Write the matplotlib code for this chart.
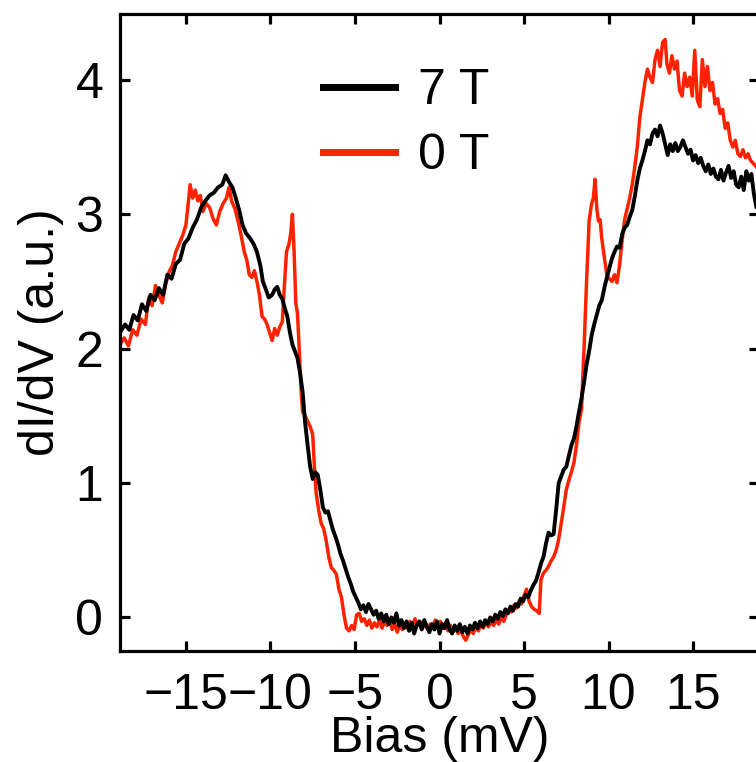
import matplotlib
matplotlib.use("Agg")
import matplotlib.pyplot as plt
from matplotlib.lines import Line2D

plt.rcParams["font.family"] = ["Liberation Sans", "DejaVu Sans"]

# 7 T curve (bias in mV, dI/dV in a.u.)
bias_7t = [
    -18.9, -18.6, -18.35, -18.1, -17.85, -17.6, -17.35, -17.1, -16.85, -16.6,
    -16.35, -16.1, -15.85, -15.6, -15.35, -15.1, -14.85, -14.6, -14.35, -14.1,
    -13.85, -13.6, -13.35, -13.1, -12.85, -12.65, -12.45, -12.25, -12.05, -11.85,
    -11.65, -11.45, -11.2, -11.0, -10.8, -10.6, -10.45, -10.3, -10.1, -9.9,
    -9.75, -9.6, -9.45, -9.3, -9.15, -9.0, -8.85, -8.7, -8.55, -8.4,
    -8.25, -8.1, -7.95, -7.8, -7.65, -7.5, -7.35, -7.2, -7.05, -6.9,
    -6.75, -6.6, -6.45, -6.3, -6.15, -6.0, -5.85, -5.7, -5.55, -5.4,
    -5.25, -5.1, -4.95, -4.8, -4.65, -4.5, -4.35, -4.2, -4.05, -3.9,
    -3.75, -3.6, -3.45, -3.3, -3.15, -3.0, -2.85, -2.7, -2.55, -2.4,
    -2.25, -2.1, -1.95, -1.8, -1.65, -1.5, -1.35, -1.2, -1.05, -0.9,
    -0.75, -0.6, -0.45, -0.3, -0.15, 0.0, 0.15, 0.3, 0.45, 0.6,
    0.75, 0.9, 1.05, 1.2, 1.35, 1.5, 1.65, 1.8, 1.95, 2.1,
    2.25, 2.4, 2.55, 2.7, 2.85, 3.0, 3.15, 3.3, 3.45, 3.6,
    3.75, 3.9, 4.05, 4.2, 4.35, 4.5, 4.65, 4.8, 4.95, 5.1,
    5.25, 5.4, 5.55, 5.7, 5.85, 6.0, 6.15, 6.3, 6.45, 6.6,
    6.75, 6.9, 7.05, 7.2, 7.35, 7.5, 7.65, 7.8, 7.95, 8.1,
    8.25, 8.4, 8.55, 8.7, 8.85, 9.0, 9.15, 9.3, 9.45, 9.6,
    9.75, 9.9, 10.05, 10.2, 10.35, 10.5, 10.65, 10.8, 10.95, 11.1,
    11.25, 11.4, 11.55, 11.7, 11.85, 12.0, 12.15, 12.3, 12.45, 12.6,
    12.75, 12.9, 13.05, 13.2, 13.35, 13.5, 13.65, 13.8, 13.95, 14.1,
    14.25, 14.4, 14.55, 14.7, 14.85, 15.0, 15.15, 15.3, 15.45, 15.6,
    15.75, 15.9, 16.05, 16.2, 16.35, 16.5, 16.65, 16.8, 16.95, 17.1,
    17.25, 17.4, 17.55, 17.7, 17.85, 18.0, 18.15, 18.3, 18.45, 18.6,
    18.75, 18.9,
]
didv_7t = [
    2.12, 2.18, 2.14, 2.25, 2.21, 2.33, 2.28, 2.40, 2.36, 2.45,
    2.40, 2.55, 2.52, 2.63, 2.66, 2.78, 2.82, 2.90, 2.96, 3.05,
    3.10, 3.14, 3.16, 3.20, 3.22, 3.29, 3.24, 3.20, 3.12, 3.03,
    2.92, 2.86, 2.82, 2.78, 2.72, 2.62, 2.50, 2.45, 2.38, 2.40,
    2.44, 2.46, 2.40, 2.37, 2.30, 2.24, 2.12, 2.03, 1.98, 1.93,
    1.82, 1.68, 1.45, 1.28, 1.12, 1.03, 1.08, 1.06, 0.95, 0.82,
    0.78, 0.79, 0.72, 0.65, 0.60, 0.54, 0.47, 0.42, 0.36, 0.30,
    0.25, 0.19, 0.15, 0.11, 0.06, 0.09, 0.04, 0.10, 0.06, 0.02,
    0.05, -0.01, 0.03, -0.03, 0.02, -0.05, 0.00, -0.04, 0.03, -0.06,
    -0.02, -0.08, -0.03, -0.10, -0.04, -0.12, -0.06, -0.03, -0.09, -0.02,
    -0.07, -0.11, -0.05, -0.09, -0.03, -0.12, -0.05, -0.08, -0.02, -0.09,
    -0.12, -0.06, -0.10, -0.05, -0.11, -0.07, -0.12, -0.06, -0.09, -0.04,
    -0.08, -0.03, -0.07, -0.02, -0.05, 0.00, -0.03, 0.02, -0.01, 0.04,
    0.01, 0.06, 0.03, 0.08, 0.05, 0.10, 0.08, 0.14, 0.12, 0.17,
    0.15, 0.20, 0.24, 0.27, 0.33, 0.40, 0.45, 0.55, 0.63, 0.61,
    0.62, 0.80, 1.00, 1.05, 1.10, 1.12, 1.20, 1.28, 1.33, 1.42,
    1.53, 1.63, 1.75, 1.88, 1.98, 2.10, 2.18, 2.25, 2.32, 2.36,
    2.45, 2.53, 2.60, 2.67, 2.72, 2.76, 2.75, 2.85, 2.90, 2.92,
    2.98, 3.03, 3.13, 3.25, 3.34, 3.40, 3.47, 3.55, 3.52, 3.60,
    3.63, 3.58, 3.66, 3.60, 3.52, 3.44, 3.52, 3.47, 3.53, 3.47,
    3.50, 3.55, 3.50, 3.45, 3.48, 3.40, 3.44, 3.38, 3.42, 3.36,
    3.32, 3.37, 3.30, 3.34, 3.28, 3.26, 3.33, 3.25, 3.31, 3.36,
    3.27, 3.32, 3.22, 3.20, 3.28, 3.18, 3.32, 3.25, 3.30, 3.15,
    3.05, 3.08,
]

# 0 T curve
bias_0t = [
    -18.9, -18.65, -18.4, -18.15, -17.9, -17.65, -17.4, -17.2, -17.0, -16.8,
    -16.6, -16.4, -16.2, -16.0, -15.8, -15.6, -15.4, -15.2, -15.0, -14.85,
    -14.75, -14.6, -14.45, -14.3, -14.15, -14.0, -13.8, -13.6, -13.4, -13.2,
    -13.0, -12.8, -12.6, -12.45, -12.3, -12.1, -11.9, -11.7, -11.55, -11.4,
    -11.25, -11.1, -10.95, -10.8, -10.65, -10.5, -10.35, -10.2, -10.05, -9.9,
    -9.75, -9.6, -9.45, -9.3, -9.2, -9.05, -8.9, -8.8, -8.7, -8.6,
    -8.5, -8.4, -8.3, -8.2, -8.1, -7.95, -7.8, -7.65, -7.5, -7.4,
    -7.3, -7.15, -7.0, -6.85, -6.7, -6.55, -6.4, -6.25, -6.1, -5.95,
    -5.8, -5.65, -5.5, -5.35, -5.2, -5.05, -4.9, -4.75, -4.6, -4.45,
    -4.3, -4.15, -4.0, -3.85, -3.7, -3.55, -3.4, -3.25, -3.1, -2.95,
    -2.8, -2.65, -2.5, -2.35, -2.2, -2.05, -1.9, -1.75, -1.6, -1.45,
    -1.3, -1.15, -1.0, -0.85, -0.7, -0.55, -0.4, -0.25, -0.1, 0.05,
    0.2, 0.35, 0.5, 0.65, 0.8, 0.95, 1.1, 1.25, 1.4, 1.55,
    1.7, 1.85, 2.0, 2.15, 2.3, 2.45, 2.6, 2.75, 2.9, 3.05,
    3.2, 3.35, 3.5, 3.65, 3.8, 3.95, 4.1, 4.25, 4.4, 4.55,
    4.7, 4.85, 5.0, 5.15, 5.3, 5.45, 5.6, 5.75, 5.9, 6.0,
    6.15, 6.3, 6.45, 6.6, 6.75, 6.9, 7.05, 7.2, 7.35, 7.5,
    7.65, 7.8, 7.95, 8.1, 8.25, 8.4, 8.55, 8.7, 8.85, 9.0,
    9.1, 9.2, 9.3, 9.4, 9.5, 9.6, 9.75, 9.9, 10.05, 10.2,
    10.35, 10.5, 10.65, 10.8, 10.95, 11.1, 11.25, 11.4, 11.55, 11.7,
    11.85, 12.0, 12.15, 12.3, 12.45, 12.6, 12.75, 12.9, 13.05, 13.2,
    13.35, 13.45, 13.6, 13.75, 13.9, 14.05, 14.2, 14.35, 14.5, 14.65,
    14.8, 14.95, 15.1, 15.25, 15.4, 15.55, 15.7, 15.85, 16.0, 16.15,
    16.3, 16.45, 16.6, 16.75, 16.9, 17.05, 17.2, 17.35, 17.5, 17.65,
    17.8, 17.95, 18.1, 18.25, 18.4, 18.55, 18.7, 18.9,
]
didv_0t = [
    2.03, 2.08, 2.02, 2.14, 2.10, 2.22, 2.18, 2.38, 2.32, 2.47,
    2.40, 2.34, 2.48, 2.57, 2.62, 2.72, 2.78, 2.84, 2.92, 3.10,
    3.22, 3.12, 3.18, 3.10, 3.14, 3.02, 3.08, 3.05, 2.97, 2.92,
    3.02, 3.08, 3.12, 3.20, 3.10, 3.04, 2.94, 2.82, 2.72, 2.66,
    2.55, 2.53, 2.58, 2.50, 2.40, 2.24, 2.22, 2.18, 2.12, 2.06,
    2.15, 2.10, 2.16, 2.20, 2.42, 2.72, 2.78, 2.86, 3.00, 2.72,
    2.34, 2.26, 2.00, 1.72, 1.53, 1.50, 1.46, 1.42, 1.36, 1.12,
    0.93, 0.80, 0.70, 0.66, 0.57, 0.45, 0.37, 0.35, 0.32, 0.21,
    0.15, 0.02, -0.08, -0.10, -0.06, -0.09, 0.02, 0.03, -0.03, -0.01,
    -0.06, -0.02, -0.08, -0.04, -0.07, -0.02, -0.08, -0.03, -0.06, -0.02,
    -0.09, -0.05, -0.11, -0.06, -0.09, -0.04, -0.08, -0.03, -0.07, -0.01,
    -0.06, -0.03, -0.08, -0.04, -0.09, -0.05, -0.07, -0.02, -0.06, -0.03,
    -0.08, -0.04, -0.10, -0.06, -0.11, -0.07, -0.12, -0.09, -0.14, -0.17,
    -0.13, -0.09, -0.12, -0.07, -0.10, -0.05, -0.08, -0.04, -0.07, -0.03,
    -0.06, -0.02, -0.05, 0.00, -0.03, 0.02, 0.06, 0.04, 0.09, 0.07,
    0.12, 0.10, 0.16, 0.21, 0.12, 0.08, 0.06, 0.05, 0.03, 0.28,
    0.33, 0.35, 0.38, 0.42, 0.45, 0.50, 0.58, 0.70, 0.82, 0.95,
    1.02, 1.08, 1.15, 1.28, 1.45, 1.55, 2.00, 2.50, 2.95, 3.08,
    3.12, 3.26, 3.05, 2.95, 2.96, 2.82, 2.68, 2.55, 2.52, 2.50,
    2.55, 2.49, 2.62, 2.80, 2.96, 3.04, 3.12, 3.22, 3.35, 3.50,
    3.72, 3.85, 3.98, 4.08, 4.02, 3.98, 4.15, 4.22, 4.10, 4.28,
    4.30, 4.12, 4.05, 4.18, 4.08, 4.14, 3.92, 3.88, 4.05, 3.95,
    4.02, 3.88, 4.22, 3.85, 3.80, 4.15, 3.95, 4.10, 3.92, 3.98,
    3.82, 3.86, 3.75, 3.78, 3.64, 3.68, 3.55, 3.50, 3.55, 3.45,
    3.43, 3.48, 3.42, 3.45, 3.40, 3.38, 3.36, 3.33,
]

x_ticks = [-15, -10, -5, 0, 5, 10, 15]
y_ticks = [0, 1, 2, 3, 4]
labels = ["7 T", "0 T"]
red = "#ff2200"

fig = plt.figure(figsize=(7.56, 7.62), dpi=100)
ax = fig.add_axes([120 / 756, 111 / 762, 639 / 756, 637 / 762])

ax.plot(bias_0t, didv_0t, color=red, lw=2.5)
ax.plot(bias_7t, didv_7t, color="black", lw=2.8)

ax.set_xlim(-18.9, 18.9)
ax.set_ylim(-0.25, 4.49)
ax.set_xticks(x_ticks)
ax.set_yticks(y_ticks)

for s in ax.spines.values():
    s.set_linewidth(2.3)
ax.tick_params(direction="in", length=7, width=2.3, labelsize=36,
               top=True, right=True)
ax.tick_params(axis="x", pad=16)
ax.tick_params(axis="y", pad=12)

ax.set_xlabel("Bias (mV)", fontsize=36, labelpad=-2)
ax.set_ylabel("dI/dV (a.u.)", fontsize=36, labelpad=8)

handles = [Line2D([], [], color="black", lw=5), Line2D([], [], color=red, lw=5)]
ax.legend(handles, labels, loc="upper left", bbox_to_anchor=(323 / 756, 1 - 68 / 762),
          bbox_transform=fig.transFigure, frameon=False, fontsize=36,
          handlelength=1.44, handletextpad=0.46, labelspacing=0.38,
          borderpad=0, borderaxespad=0)

fig.savefig("out.png", dpi=100)
